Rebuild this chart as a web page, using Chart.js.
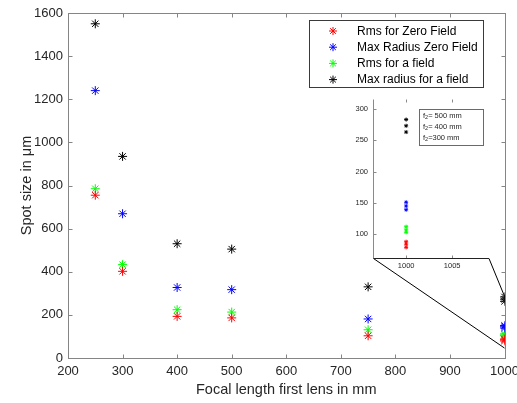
<!DOCTYPE html>
<html><head><meta charset="utf-8">
<script src="https://cdn.jsdelivr.net/npm/chart.js@4.4.1/dist/chart.umd.min.js"></script>
<style>
html,body{margin:0;padding:0;background:#fff;overflow:hidden;width:517px;height:403px}
#wrap{position:relative;width:517px;height:403px;overflow:hidden}
#main{position:absolute;left:0;top:0}
#inset{position:absolute;left:330px;top:90px}
</style></head><body>
<div id="wrap">
<canvas id="main" width="525" height="403"></canvas>
<canvas id="inset" width="170" height="190"></canvas>
</div>
<script>
// ---- data ----
const focalLengths       = [250, 300, 400, 500, 750, 1000, 1000, 1000];
const rmsZeroField       = [755, 402, 193, 186, 103, 88, 84, 79];
const maxRadiusZeroField = [1240, 669, 327, 317, 181, 151, 145, 139];
const rmsField           = [785, 433, 224, 213, 131, 112, 107, 103];
const maxRadiusField     = [1550, 935, 530, 505, 330, 283, 273, 263];
const seriesLabels = ['Rms for Zero Field', 'Max Radius Zero Field', 'Rms for a field', 'Max radius for a field'];
const seriesColors = ['#ff0000', '#0000ff', '#00ff00', '#000000'];
const xTicks = [200, 300, 400, 500, 600, 700, 800, 900, 1000];
const yTicks = [0, 200, 400, 600, 800, 1000, 1200, 1400, 1600];
const insetXTicks = [1000, 1005];
const insetYTicks = [100, 150, 200, 250, 300];
const insetLegend = [['= 500 mm'], ['= 400 mm'], ['=300 mm']];
const zoomedX = 1000, zoomedYLow = 46, zoomedYHigh = 286;

const FONT = "'Liberation Sans', Arial, Helvetica, sans-serif";
Chart.defaults.font.family = FONT;
Chart.defaults.color = '#262626';

const allSeries = [rmsZeroField, maxRadiusZeroField, rmsField, maxRadiusField];

function star(ctx, x, y, r) {
  ctx.beginPath();
  ctx.moveTo(x - r, y); ctx.lineTo(x + r, y);
  ctx.moveTo(x, y - r); ctx.lineTo(x, y + r);
  const d = r * Math.SQRT1_2;
  ctx.moveTo(x - d, y - d); ctx.lineTo(x + d, y + d);
  ctx.moveTo(x - d, y + d); ctx.lineTo(x + d, y - d);
  ctx.stroke();
}

// ---------------- inset ----------------
const insetDatasets = allSeries.map((s, i) => ({
  label: seriesLabels[i],
  data: s.map((v, j) => ({x: focalLengths[j], y: v})).filter(p => p.x === zoomedX),
  pointStyle: 'star', radius: 2, borderWidth: 1,
  borderColor: seriesColors[i], backgroundColor: seriesColors[i], showLine: false
}));

const insetFrame = {
  id: 'insetFrame',
  beforeDatasetsDraw(chart) {
    const {ctx, chartArea: a, scales: {x, y}} = chart;
    const L = Math.round(a.left) + 0.5, B = Math.round(a.bottom) + 0.5, T = Math.round(a.top) + 0.5, R = Math.round(a.right);
    ctx.save();
    ctx.lineWidth = 1;
    ctx.strokeStyle = '#8a8a8a';
    ctx.beginPath();
    ctx.moveTo(L, T - 1); ctx.lineTo(L, B);
    insetYTicks.forEach(v => { const py = Math.round(y.getPixelForValue(v)) + 0.5; ctx.moveTo(L, py); ctx.lineTo(L + 3, py); });
    insetXTicks.forEach(v => { const px = Math.round(x.getPixelForValue(v)) + 0.5; ctx.moveTo(px, B); ctx.lineTo(px, B - 3); ctx.moveTo(px, T - 1); ctx.lineTo(px, T + 2); });
    ctx.stroke();
    ctx.strokeStyle = '#222';
    ctx.beginPath(); ctx.moveTo(L, B); ctx.lineTo(R, B); ctx.stroke();
    ctx.restore();
  },
  afterDraw(chart) {
    const {ctx} = chart;
    ctx.save();
    ctx.fillStyle = '#fff';
    ctx.strokeStyle = '#6a6a6a';
    ctx.lineWidth = 1;
    ctx.fillRect(89.5, 19.5, 64, 36);
    ctx.strokeRect(89.5, 19.5, 64, 36);
    ctx.fillStyle = '#262626';
    ctx.textBaseline = 'middle';
    ['500', '400', '300'].forEach((f, i) => {
      const ty = 25.5 + i * 11;
      ctx.font = '7.5px ' + FONT;
      ctx.fillText('f', 93, ty);
      const fw = ctx.measureText('f').width;
      ctx.font = '5.5px ' + FONT;
      ctx.fillText('2', 93 + fw, ty + 2);
      const sw = ctx.measureText('2').width;
      ctx.font = '7.5px ' + FONT;
      ctx.fillText(insetLegend[i][0], 93 + fw + sw, ty);
    });
    ctx.restore();
  }
};

const insetChart = new Chart(document.getElementById('inset'), {
  type: 'scatter',
  data: {datasets: insetDatasets},
  options: {
    responsive: false, animation: false, devicePixelRatio: 1,
    layout: {padding: {left: 0, right: 11, top: 7, bottom: 0}},
    plugins: {legend: {display: false}, tooltip: {enabled: false}},
    scales: {
      x: {
        type: 'linear', min: 996.4, max: 1009,
        afterBuildTicks: s => { s.ticks = insetXTicks.map(v => ({value: v})); },
        afterFit: s => { s.height = 22; },
        grid: {display: false, drawTicks: false}, border: {display: false},
        ticks: {font: {size: 7.5}, padding: 3, maxRotation: 0, autoSkip: false, callback: v => String(v)}
      },
      y: {
        type: 'linear', min: 62, max: 315,
        afterBuildTicks: s => { s.ticks = insetYTicks.map(v => ({value: v})); },
        afterFit: s => { s.width = 43; },
        grid: {display: false, drawTicks: false}, border: {display: false},
        ticks: {font: {size: 7.5}, padding: 5, autoSkip: false, callback: v => String(v)}
      }
    }
  },
  plugins: [insetFrame]
});

// ---------------- main ----------------
const mainDatasets = allSeries.map((s, i) => ({
  label: seriesLabels[i],
  data: s.map((v, j) => ({x: focalLengths[j], y: v})),
  pointStyle: 'star', radius: 4.5, borderWidth: 1,
  borderColor: seriesColors[i], backgroundColor: seriesColors[i], showLine: false
}));

const insetLeft = 330, insetTop = 90;

const mainFrame = {
  id: 'mainFrame',
  beforeDatasetsDraw(chart) {
    const {ctx, chartArea: a, scales: {x, y}} = chart;
    const L = Math.round(a.left) + 0.5, R = Math.round(a.right) + 0.5, T = Math.round(a.top) + 0.5, B = Math.round(a.bottom) + 0.5;
    ctx.save();
    ctx.strokeStyle = '#858585';
    ctx.lineWidth = 1;
    ctx.strokeRect(L, T, R - L, B - T);
    ctx.beginPath();
    const tl = 4;
    xTicks.forEach(v => {
      const px = Math.round(x.getPixelForValue(v)) + 0.5;
      ctx.moveTo(px, B); ctx.lineTo(px, B - tl);
      ctx.moveTo(px, T); ctx.lineTo(px, T + tl);
    });
    yTicks.forEach(v => {
      const py = Math.round(y.getPixelForValue(v)) + 0.5;
      ctx.moveTo(L, py); ctx.lineTo(L + tl, py);
      ctx.moveTo(R, py); ctx.lineTo(R - tl, py);
    });
    ctx.stroke();
    // zoom connector lines
    const ia = insetChart.chartArea;
    const ib = insetTop + Math.round(ia.bottom) + 0.5;
    const il = insetLeft + Math.round(ia.left) + 0.5;
    const ir = insetLeft + Math.round(ia.right);
    const zx = x.getPixelForValue(zoomedX);
    ctx.strokeStyle = '#000';
    ctx.beginPath();
    ctx.moveTo(il, ib); ctx.lineTo(zx, y.getPixelForValue(zoomedYLow));
    ctx.moveTo(ir, ib); ctx.lineTo(zx, y.getPixelForValue(zoomedYHigh));
    ctx.stroke();
    ctx.restore();
  },
  afterDraw(chart) {
    const {ctx} = chart;
    ctx.save();
    ctx.fillStyle = '#fff';
    ctx.strokeStyle = '#3a3a3a';
    ctx.lineWidth = 1;
    ctx.fillRect(309.5, 20.5, 174, 67);
    ctx.strokeRect(309.5, 20.5, 174, 67);
    ctx.font = '12px ' + FONT;
    ctx.textBaseline = 'middle';
    chart.data.datasets.forEach((ds, i) => {
      const ty = 31 + i * 16.2;
      ctx.strokeStyle = ds.borderColor;
      ctx.lineWidth = 1;
      star(ctx, 333, ty, 4);
      ctx.fillStyle = '#000';
      ctx.fillText(ds.label, 357, ty + 0.5);
    });
    ctx.restore();
  }
};

new Chart(document.getElementById('main'), {
  type: 'scatter',
  data: {datasets: mainDatasets},
  options: {
    responsive: false, animation: false, devicePixelRatio: 1,
    layout: {padding: {left: 0, right: 19, top: 13, bottom: 0}},
    plugins: {legend: {display: false}, tooltip: {enabled: false}},
    scales: {
      x: {
        type: 'linear', min: 200, max: 1000,
        afterBuildTicks: s => { s.ticks = xTicks.map(v => ({value: v})); },
        afterFit: s => { s.height = 45; },
        grid: {display: false, drawTicks: false}, border: {display: false},
        ticks: {font: {size: 13}, padding: 6, maxRotation: 0, autoSkip: false, callback: v => String(v)},
        title: {display: true, text: 'Focal length first lens in mm', font: {size: 14.5}, color: '#262626', padding: {top: 0, bottom: 4}}
      },
      y: {
        type: 'linear', min: 0, max: 1600,
        afterBuildTicks: s => { s.ticks = yTicks.map(v => ({value: v})); },
        afterFit: s => { s.width = 68; },
        grid: {display: false, drawTicks: false}, border: {display: false},
        ticks: {font: {size: 13}, padding: 5, autoSkip: false, callback: v => String(v)},
        title: {display: true, text: 'Spot size in μm', font: {size: 14.5}, color: '#262626', padding: {top: 18, bottom: 0}}
      }
    }
  },
  plugins: [mainFrame]
});
</script>
</body></html>
